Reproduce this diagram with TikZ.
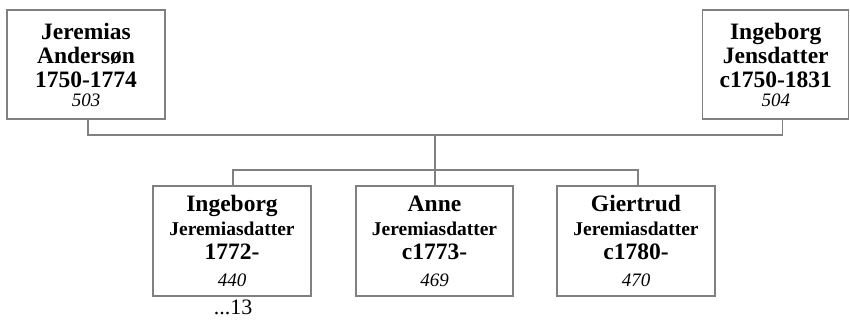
\documentclass[tikz,border=0pt]{standalone}
\usepackage{fontspec}
\setmainfont{Liberation Serif}
\usetikzlibrary{positioning}
\definecolor{boxgray}{RGB}{128,128,128}
\tikzset{
  person/.style={draw=boxgray, line width=1.1pt, align=center, inner sep=0pt,
    font=\bfseries\fontsize{23.5}{24}\selectfont},
  parent/.style={person, minimum height=109pt},
  child/.style={person, minimum width=158pt, minimum height=110pt},
  link/.style={draw=boxgray, line width=1.1pt},
}
\newcommand{\refno}[1]{\fontsize{19}{19}\selectfont\mdseries\itshape #1}
\newcommand{\midname}[1]{\fontsize{19.5}{19.5}\selectfont #1}

\begin{document}
\begin{tikzpicture}[x=1pt, y=-1pt]
  \useasboundingbox (0,0) rectangle (850,320);
  % Parents
  \node[parent, minimum width=158pt] (jeremias) at (86,64.5)
    {Jeremias\\Andersøn\\1750-1774\\[-5pt]\refno{503}};
  \node[parent, minimum width=146pt] (ingeborg) at (775.75,64.5)
    {Ingeborg\\Jensdatter\\c1750-1831\\[-5pt]\refno{504}};
  % Children
  \node[child] (ingeborgj) at (232,241)
    {Ingeborg\\\midname{Jeremiasdatter}\\1772-\\[3pt]\refno{440}};
  \node[child, minimum width=157pt] (anne) at (434.5,241)
    {Anne\\\midname{Jeremiasdatter}\\c1773-\\[3pt]\refno{469}};
  \node[child] (giertrud) at (636,241)
    {Giertrud\\\midname{Jeremiasdatter}\\c1780-\\[3pt]\refno{470}};
  \node[anchor=base, font=\fontsize{22}{22}\selectfont] (more) at (233,314) {...13};
  % Lines
  \coordinate (couple) at (435,135);
  \coordinate (sibs) at (435,170);
  \draw[link] ([xshift=2pt]jeremias.south) |- (couple) -| ([xshift=7pt]ingeborg.south);
  \draw[link] (couple) -- (sibs);
  \draw[link] ([xshift=1pt]ingeborgj.north) |- (sibs) -| ([xshift=2pt]giertrud.north);
  \draw[link] (sibs) -- (sibs |- anne.north);
\end{tikzpicture}
\end{document}
